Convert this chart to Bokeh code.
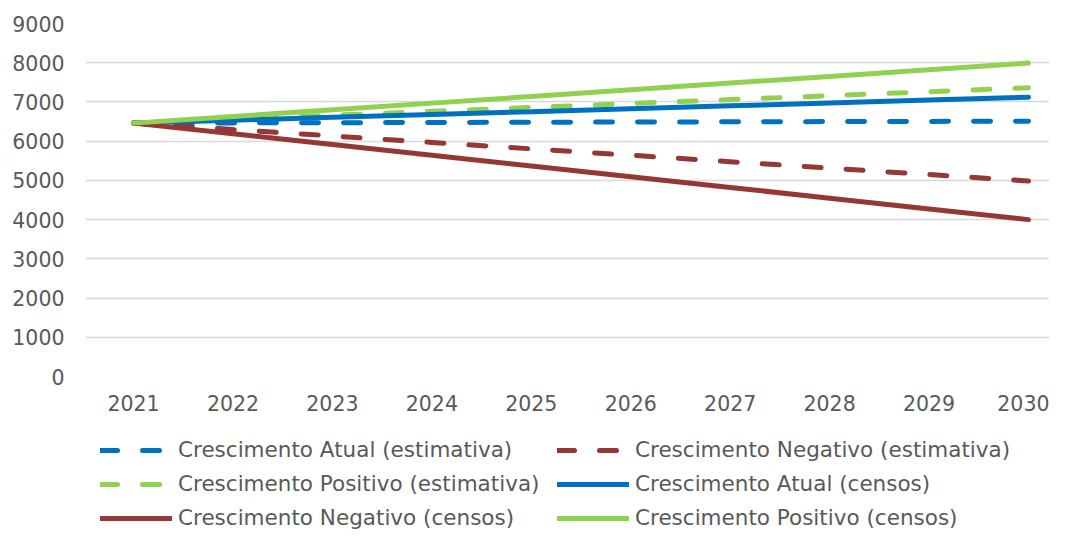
from bokeh.plotting import figure
from bokeh.layouts import column
from bokeh.models import Range1d, FixedTicker, Legend, LegendItem, NumeralTickFormatter
from bokeh.embed import file_html
from bokeh.resources import INLINE

years = [2021, 2022, 2023, 2024, 2025, 2026, 2027, 2028, 2029, 2030]
atual_est = [6460, 6466, 6471, 6477, 6482, 6488, 6493, 6499, 6504, 6510]
negativo_est = [6460, 6296, 6132, 5968, 5804, 5641, 5477, 5313, 5149, 4985]
positivo_est = [6460, 6560, 6660, 6760, 6860, 6960, 7060, 7160, 7260, 7360]
atual_censos = [6460, 6533, 6607, 6680, 6753, 6827, 6900, 6973, 7047, 7120]
negativo_censos = [6460, 6187, 5913, 5640, 5367, 5093, 4820, 4547, 4273, 4000]
positivo_censos = [6460, 6630, 6800, 6970, 7140, 7310, 7480, 7650, 7820, 7990]
y_ticks = [0, 1000, 2000, 3000, 4000, 5000, 6000, 7000, 8000, 9000]

BLUE = "#0070C0"
RED = "#953735"
GREEN = "#92D050"
FONT = "DejaVu Sans"
TXT = "#595959"
FS = "20.5px"

series = [
    ("Crescimento Atual (estimativa)", atual_est, BLUE, "17 25"),
    ("Crescimento Negativo (estimativa)", negativo_est, RED, "17 25"),
    ("Crescimento Positivo (estimativa)", positivo_est, GREEN, "17 25"),
    ("Crescimento Atual (censos)", atual_censos, BLUE, "solid"),
    ("Crescimento Negativo (censos)", negativo_censos, RED, "solid"),
    ("Crescimento Positivo (censos)", positivo_censos, GREEN, "solid"),
]

# main chart
p = figure(width=1049, height=420, output_backend="svg", toolbar_location=None,
           x_range=Range1d(2020.517, 2030.211), y_range=Range1d(0, 9000),
           min_border_left=85, min_border_right=0, min_border_top=23, min_border_bottom=44)
p.outline_line_color = None
p.background_fill_color = "white"
p.border_fill_color = "white"

for name, vals, col, dash in series:
    p.line(years, vals, line_color=col, line_width=5, line_dash=dash, line_cap="round")

p.xgrid.grid_line_color = None
p.ygrid.grid_line_color = "#D9D9D9"
p.ygrid.grid_line_width = 1.5

p.xaxis.ticker = FixedTicker(ticks=years)
p.yaxis.ticker = FixedTicker(ticks=y_ticks)
p.xaxis.formatter = NumeralTickFormatter(format="0")
p.yaxis.formatter = NumeralTickFormatter(format="0")
for ax in (p.xaxis, p.yaxis):
    ax.axis_line_color = None
    ax.major_tick_line_color = None
    ax.minor_tick_line_color = None
    ax.major_tick_out = 0
    ax.major_tick_in = 0
    ax.major_label_text_font = FONT
    ax.major_label_text_font_size = FS
    ax.major_label_text_color = TXT
p.xaxis.major_label_standoff = 18
p.yaxis.major_label_standoff = 21

# legend strip
lg = figure(width=1049, height=111, output_backend="svg", toolbar_location=None,
            x_range=Range1d(0, 1), y_range=Range1d(0, 1),
            x_axis_type=None, y_axis_type=None,
            min_border_left=0, min_border_right=0, min_border_top=0, min_border_bottom=0)
lg.outline_line_color = None
lg.xgrid.visible = False
lg.ygrid.visible = False
lg.border_fill_color = "white"
items = []
for name, vals, col, dash in series:
    r = lg.line(years, vals, line_color=col, line_width=5, line_dash=dash, line_cap="round")
    items.append(LegendItem(label=name, renderers=[r]))

legend = Legend(items=items, orientation="horizontal", ncols=2,
                location=(15, 1), padding=0, margin=0, spacing=9,
                glyph_width=72, glyph_height=24, label_standoff=6, label_width=370,
                label_text_font=FONT, label_text_font_size="21.5px", label_text_color=TXT,
                background_fill_alpha=0, border_line_color=None)
lg.add_layout(legend, "center")

layout = column(p, lg, spacing=0)
open("out.html", "w").write(file_html(layout, INLINE))
